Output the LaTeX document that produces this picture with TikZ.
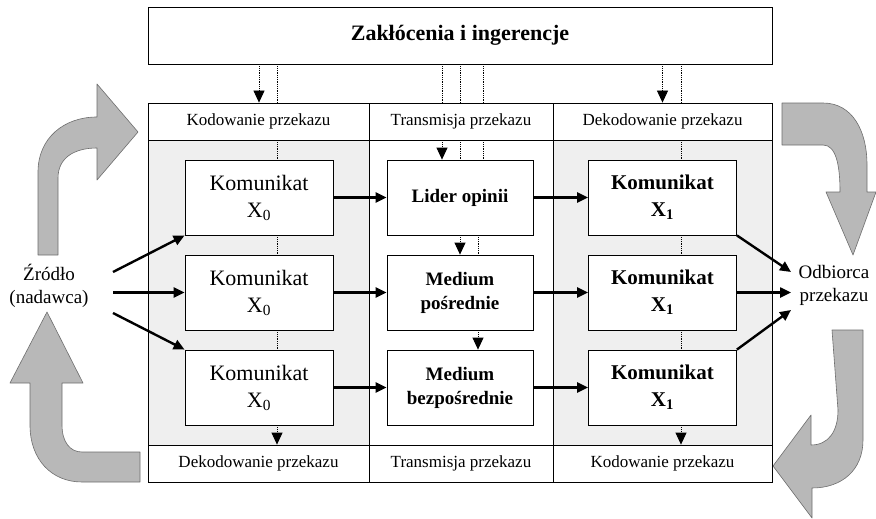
\documentclass[tikz,border=0pt]{standalone}
\usepackage{fontspec}
\setmainfont{Liberation Serif}
\usetikzlibrary{arrows.meta}
\definecolor{shade}{HTML}{EFEFEF}
\definecolor{arrfill}{HTML}{B8B8B8}
\definecolor{arredge}{HTML}{6E6E6E}
\tikzset{
  cellbox/.style={draw, line width=0.8pt, inner sep=0pt, anchor=center},
  hdr/.style={cellbox, fill=white, minimum height=37pt, font=\fontsize{17}{20}\selectfont},
  kbox/.style={draw, fill=white, line width=0.8pt, minimum width=148pt, minimum height=75pt, inner sep=0pt, align=center, font=\fontsize{22}{27}\selectfont},
  kboxb/.style={kbox, font=\fontsize{21}{27}\selectfont\bfseries},
  mbox/.style={kbox, minimum width=146pt, font=\fontsize{19}{24}\selectfont\bfseries},
  barrow/.style={line width=2.4pt, -{Triangle[length=11pt,width=10pt]}},
  dotline/.style={line width=0.8pt, densely dotted},
  dotarrow/.style={dotline, -{Triangle[length=12pt,width=11pt]}},
  bigarrow/.style={fill=arrfill, draw=arredge, line width=0.6pt, line join=round},
  sidetext/.style={align=center, font=\fontsize{19}{23}\selectfont}
}
\begin{document}
\begin{tikzpicture}[x=1pt,y=-1pt]
\useasboundingbox[fill=white] (0,0) rectangle (876,519);

% top box
\node[cellbox, minimum width=624pt, minimum height=57pt, font=\fontsize{22}{26}\selectfont\bfseries] (top) at (460,35.5) {Zakłócenia i ingerencje};

% body cells
\node[cellbox, fill=shade, minimum width=221pt, minimum height=305pt] (b1) at (258.5,292.5) {};
\node[cellbox, fill=white, minimum width=184pt, minimum height=305pt] (b2) at (461,292.5) {};
\node[cellbox, fill=shade, minimum width=219pt, minimum height=305pt] (b3) at (662.5,292.5) {};

% headers
\node[hdr, minimum width=221pt] (h1) at (258.5,121.5) {Kodowanie przekazu};
\node[hdr, minimum width=184pt] (h2) at (461,121.5) {Transmisja przekazu};
\node[hdr, minimum width=219pt] (h3) at (662.5,121.5) {Dekodowanie przekazu};
% footers
\node[hdr, minimum width=221pt] (f1) at (258.5,463.5) {Dekodowanie przekazu};
\node[hdr, minimum width=184pt] (f2) at (461,463.5) {Transmisja przekazu};
\node[hdr, minimum width=219pt] (f3) at (662.5,463.5) {Kodowanie przekazu};

% boxes
\node[kbox] (L1) at (259,197.5) {Komunikat\\X\textsubscript{0}};
\node[kbox] (L2) at (259,292.5) {Komunikat\\X\textsubscript{0}};
\node[kbox] (L3) at (259,387.5) {Komunikat\\X\textsubscript{0}};
\node[mbox] (M1) at (460,197.5) {Lider opinii};
\node[mbox] (M2) at (460,292.5) {Medium\\pośrednie};
\node[mbox] (M3) at (460,387.5) {Medium\\bezpośrednie};
\node[kboxb] (R1) at (662.5,197.5) {Komunikat\\X\textsubscript{1}};
\node[kboxb] (R2) at (662.5,292.5) {Komunikat\\X\textsubscript{1}};
\node[kboxb] (R3) at (662.5,387.5) {Komunikat\\X\textsubscript{1}};

% side texts
\node[sidetext] (src) at (49,286) {Źródło\\(nadawca)};
\node[sidetext] (dst) at (834,285) {Odbiorca\\przekazu};
\coordinate (s1) at (113,272);
\coordinate (s2) at (113,292.5);
\coordinate (s3) at (113,313);
\coordinate (r1) at (791,272);
\coordinate (r2) at (791,292.5);
\coordinate (r3) at (791,310);

% x positions of vertical lines
\coordinate (xl) at (277,0);
\coordinate (xm1) at (442,0);
\coordinate (xm2) at (460,0);
\coordinate (xm3) at (483,0);
\coordinate (xm4) at (478,0);
\coordinate (xr) at (681,0);

% dotted lines, left column
\draw[dotarrow] (top.south -| L1.north) -- (h1.north -| L1.north);
\draw[dotline] (top.south -| xl) -- (h1.north -| xl);
\draw[dotline] (h1.south -| xl) -- (L1.north -| xl);
\draw[dotline] (L1.south -| xl) -- (L2.north -| xl);
\draw[dotline] (L2.south -| xl) -- (L3.north -| xl);
\draw[dotarrow] (L3.south -| xl) -- (f1.north -| xl);
% middle column
\draw[dotline] (top.south -| xm1) -- (h2.north -| xm1);
\draw[dotline] (top.south -| xm2) -- (h2.north -| xm2);
\draw[dotline] (top.south -| xm3) -- (h2.north -| xm3);
\draw[dotarrow] (h2.south -| xm1) -- (M1.north -| xm1);
\draw[dotline] (h2.south -| xm2) -- (M1.north -| xm2);
\draw[dotline] (h2.south -| xm3) -- (M1.north -| xm3);
\draw[dotarrow] (M1.south -| xm2) -- (M2.north -| xm2);
\draw[dotline] (M1.south -| xm4) -- (M2.north -| xm4);
\draw[dotarrow] (M2.south -| xm4) -- (M3.north -| xm4);
% right column
\draw[dotarrow] (top.south -| R1.north) -- (h3.north -| R1.north);
\draw[dotline] (top.south -| xr) -- (h3.north -| xr);
\draw[dotline] (h3.south -| xr) -- (R1.north -| xr);
\draw[dotline] (R1.south -| xr) -- (R2.north -| xr);
\draw[dotline] (R2.south -| xr) -- (R3.north -| xr);
\draw[dotarrow] (R3.south -| xr) -- (f3.north -| xr);

% black arrows
\draw[barrow] (s1) -- (L1.south west);
\draw[barrow] (s2) -- (L2.west);
\draw[barrow] (s3) -- (L3.north west);
\draw[barrow] (L1.east) -- (M1.west);
\draw[barrow] (L2.east) -- (M2.west);
\draw[barrow] (L3.east) -- (M3.west);
\draw[barrow] (M1.east) -- (R1.west);
\draw[barrow] (M2.east) -- (R2.west);
\draw[barrow] (M3.east) -- (R3.west);
\draw[barrow] (R1.south east) -- (r1);
\draw[barrow] (R2.east) -- (r2);
\draw[barrow] (R3.north east) -- (r3);

% big grey curved arrows
\draw[bigarrow] (38,255) -- (38,172) .. controls (38,138) and (64,117) .. (97,117) -- (97,84) -- (138,132) -- (97,180) -- (97,148) .. controls (74,148) and (58,158) .. (58,178) -- (58,255) -- cycle;
\draw[bigarrow] (140,452) -- (82,452) .. controls (70,452) and (62,442) .. (62,425) -- (62,383) -- (83,383) -- (47,312) -- (10,383) -- (30,383) -- (30,425) .. controls (30,460) and (52,482) .. (82,482) -- (140,482) -- cycle;
\draw[bigarrow] (782,103) -- (823,103) .. controls (852,103) and (867,130) .. (867,165) -- (867,192) -- (876,192) -- (853,255) -- (826,192) -- (840,192) .. controls (840,165) and (836,145) .. (823,145) -- (782,145) -- cycle;
\draw[bigarrow] (832,330) -- (863,330) -- (863,440) .. controls (863,470) and (842,488) .. (812,488) -- (812,518) -- (773,466) -- (811,415) -- (811,445) .. controls (828,445) and (838,432) .. (838,410) -- cycle;
\end{tikzpicture}
\end{document}
